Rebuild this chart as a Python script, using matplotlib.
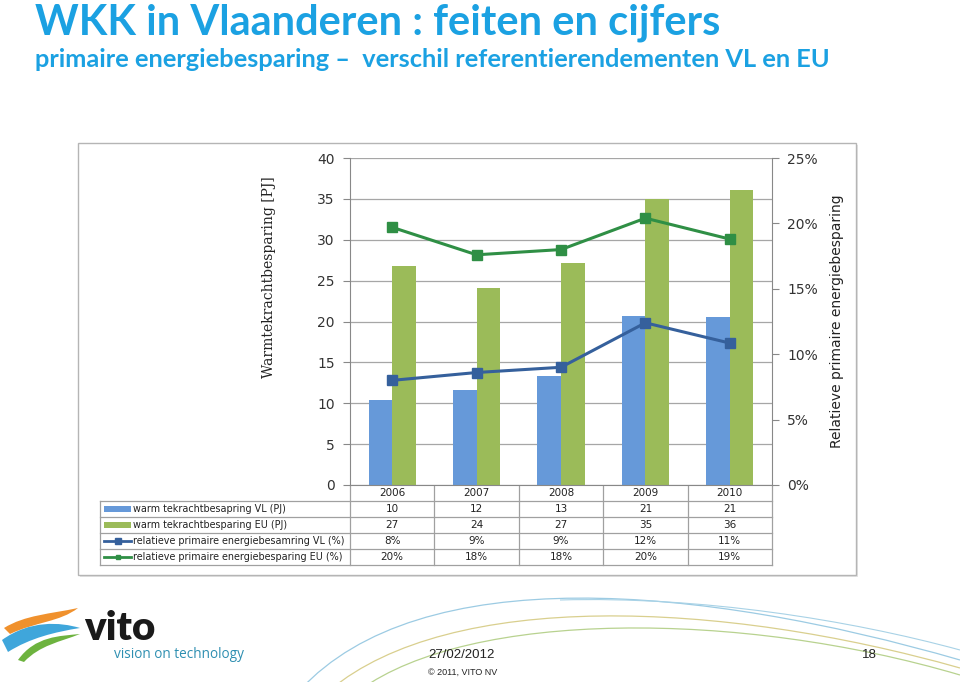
import matplotlib
matplotlib.use("Agg")
import matplotlib.pyplot as plt
import matplotlib.patches as mpatches
from matplotlib.path import Path
from matplotlib.lines import Line2D
import numpy as np

# ---- data ----
years = ["2006", "2007", "2008", "2009", "2010"]
wkk_vl = [10.4, 11.6, 13.3, 20.7, 20.6]        # PJ
wkk_eu = [26.8, 24.1, 27.2, 35.0, 36.1]        # PJ
rel_vl = [8.0, 8.6, 9.0, 12.4, 10.85]          # %
rel_eu = [19.7, 17.6, 18.0, 20.4, 18.8]        # %

row_labels = [
    "warm tekrachtbesapring VL (PJ)",
    "warm tekrachtbesparing EU (PJ)",
    "relatieve primaire energiebesamring VL (%)",
    "relatieve primaire energiebesparing EU (%)",
]

C_VL_BAR = "#6699D9"
C_EU_BAR = "#9BBB59"
C_VL_LINE = "#35609C"
C_EU_LINE = "#2F8F45"
C_TITLE = "#1BA1E2"
C_GRID = "#A6A6A6"

W, H = 960, 682
fig = plt.figure(figsize=(W / 100, H / 100), dpi=100)
fig.patch.set_facecolor("white")

# pixel overlay for slide decoration and the data table
bg = fig.add_axes([0, 0, 1, 1])
bg.set_xlim(0, W)
bg.set_ylim(H, 0)
bg.axis("off")


def curve(ax, pts, color, lw=1.0, alpha=1.0):
    codes = [Path.MOVETO] + [Path.CURVE4] * (len(pts) - 1)
    ax.add_patch(mpatches.PathPatch(Path(pts, codes), fill=False, edgecolor=color,
                                    lw=lw, alpha=alpha))


def blob(ax, pts, color):
    codes = [Path.MOVETO] + [Path.CURVE4] * (len(pts) - 2) + [Path.CLOSEPOLY]
    ax.add_patch(mpatches.PathPatch(Path(pts, codes), facecolor=color, edgecolor="none"))


# titles
bg.text(35, 34, "WKK in Vlaanderen : feiten en cijfers", color=C_TITLE, fontsize=30,
        fontweight="bold", family="Lato", va="baseline", ha="left")
bg.text(35, 67, "primaire energiebesparing \u2013  verschil referentierendementen VL en EU",
        color=C_TITLE, fontsize=18.3, fontweight="bold", family="Lato",
        va="baseline", ha="left")

# chart frame with a soft shadow
bg.add_patch(mpatches.Rectangle((80, 145), 778, 432, facecolor="#E4E4E4", edgecolor="none"))
bg.add_patch(mpatches.Rectangle((78, 143), 778, 432, facecolor="white", edgecolor="#B5B5B5", lw=1))

# ---- main chart ----
L, R, T, B = 350, 772, 158, 485
ax = fig.add_axes([L / W, 1 - B / H, (R - L) / W, (B - T) / H])
x = np.arange(len(years))
bw = 0.28
ax.bar(x - bw / 2, wkk_vl, bw, color=C_VL_BAR, zorder=2)
ax.bar(x + bw / 2, wkk_eu, bw, color=C_EU_BAR, zorder=2)
ax.set_xlim(-0.5, len(years) - 0.5)
ax.set_ylim(0, 40)
ax.set_yticks(range(0, 41, 5))
ax.set_xticks([])
ax.grid(axis="y", color=C_GRID, lw=0.9, zorder=0)
ax.tick_params(axis="y", direction="out", length=5, color="#888888", labelsize=10,
               labelcolor="#333333", pad=6)
for s in ["top", "right"]:
    ax.spines[s].set_visible(False)
ax.spines["left"].set_color("#888888")
ax.spines["bottom"].set_color("#888888")
ax.set_ylabel("Warmtekrachtbesparing [PJ]", fontsize=10, color="#222222",
              family="DejaVu Serif")
ax.yaxis.set_label_coords(-0.175, 0.635)

ax2 = ax.twinx()
ax2.plot(x, rel_eu, color=C_EU_LINE, lw=2.2, marker="s", ms=7.5, zorder=3)
ax2.plot(x, rel_vl, color=C_VL_LINE, lw=2.2, marker="s", ms=7.5, zorder=3)
ax2.set_ylim(0, 25)
ax2.set_yticks(range(0, 26, 5))
ax2.set_yticklabels([f"{v}%" for v in range(0, 26, 5)])
ax2.tick_params(axis="y", direction="out", length=5, color="#888888", labelsize=10,
                labelcolor="#333333", pad=6)
for s in ["top", "left", "bottom"]:
    ax2.spines[s].set_visible(False)
ax2.spines["right"].set_color("#888888")
ax2.set_ylabel("Relatieve primaire energiebesparing", fontsize=10, color="#222222")
ax2.yaxis.set_label_coords(1.137, 0.5)

# ---- data table below the chart ----
ncol = len(years)
colw = (R - L) / ncol
centers = [L + colw * (i + 0.5) for i in range(ncol)]
row_y = [485, 501, 517, 533, 549, 565]
tl = dict(color="#A0A0A0", lw=0.9)
for y in row_y[1:]:
    bg.add_line(Line2D([100, R], [y, y], **tl))
bg.add_line(Line2D([100, 100], [row_y[1], row_y[-1]], **tl))
for i in range(ncol + 1):
    xx = L + colw * i
    bg.add_line(Line2D([xx, xx], [row_y[0], row_y[-1]], **tl))

for c, yr in zip(centers, years):
    bg.text(c, 493, yr, ha="center", va="center", fontsize=7.5, color="#222222")

table_rows = [
    [f"{round(v):d}" for v in wkk_vl],
    [f"{round(v):d}" for v in wkk_eu],
    [f"{round(v):d}%" for v in rel_vl],
    [f"{round(v):d}%" for v in rel_eu],
]
for r, (lab, vals) in enumerate(zip(row_labels, table_rows)):
    yc = (row_y[r + 1] + row_y[r + 2]) / 2
    if r == 0:
        bg.add_patch(mpatches.Rectangle((104, yc - 3), 27, 6, facecolor=C_VL_BAR, edgecolor="none"))
    elif r == 1:
        bg.add_patch(mpatches.Rectangle((104, yc - 3), 27, 6, facecolor=C_EU_BAR, edgecolor="none"))
    else:
        col = C_VL_LINE if r == 2 else C_EU_LINE
        bg.add_line(Line2D([104, 131], [yc, yc], color=col, lw=2))
        bg.add_line(Line2D([117.5], [yc], color=col, marker="s", ms=5 if r == 2 else 3.5))
    bg.text(133, yc, lab, ha="left", va="center", fontsize=6.9, color="#222222")
    for c, v in zip(centers, vals):
        bg.text(c, yc, v, ha="center", va="center", fontsize=7.5, color="#222222")

# ---- slide footer ----
curve(bg, [(300, 690), (420, 560), (700, 585), (960, 660)], "#9CCBE3", lw=0.9)
curve(bg, [(330, 690), (450, 590), (720, 600), (960, 668)], "#D9CF8E", lw=0.9)
curve(bg, [(360, 690), (470, 610), (740, 610), (960, 675)], "#B8D28F", lw=0.9)
curve(bg, [(560, 600), (700, 596), (850, 620), (960, 650)], "#A8D2E6", lw=0.8)

# logo swooshes
blob(bg, [(4, 628), (25, 615), (50, 614), (78, 608), (60, 622), (35, 622), (10, 634), (4, 628)], "#F0912D")
blob(bg, [(2, 640), (30, 620), (60, 622), (80, 628), (55, 632), (30, 638), (8, 652), (2, 640)], "#3FA6DB")
blob(bg, [(18, 660), (35, 636), (60, 636), (80, 634), (60, 642), (40, 645), (24, 662), (18, 660)], "#6DB33F")
bg.text(84, 628, "vito", fontsize=29, fontweight="heavy", family="Lato",
        color="#1A1A1A", va="center", ha="left")
bg.text(114, 654, "vision on technology", fontsize=9.8, family="Open Sans",
        color="#2E8FB1", va="center", ha="left")

bg.text(428, 655, "27/02/2012", fontsize=9.5, family="Liberation Sans", color="#222222",
        va="center", ha="left")
bg.text(428, 672, "\u00a9 2011, VITO NV", fontsize=6.5, family="Liberation Sans",
        color="#222222", va="center", ha="left")
bg.text(862, 655, "18", fontsize=9.5, family="Liberation Sans", color="#222222",
        va="center", ha="left")

fig.savefig("out.png", dpi=100)
